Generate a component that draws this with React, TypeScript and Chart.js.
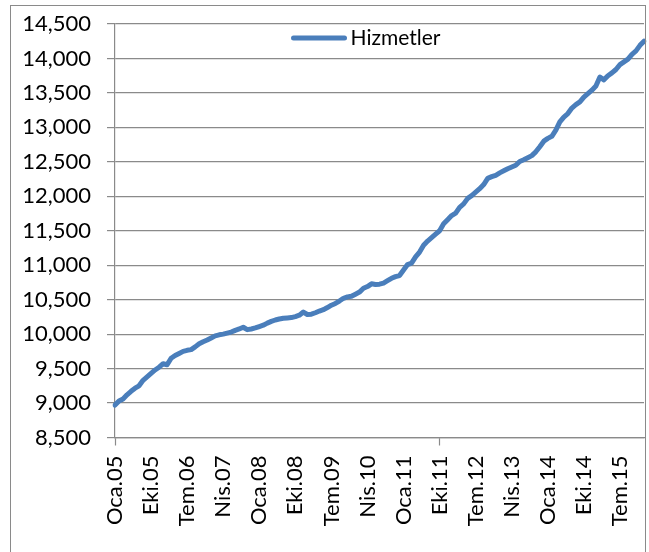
import React, { useEffect, useRef } from 'react';
import { Chart, registerables } from 'chart.js';

Chart.register(...registerables);

const MONTH_NAMES = ['Oca', 'Şub', 'Mar', 'Nis', 'May', 'Haz', 'Tem', 'Ağu', 'Eyl', 'Eki', 'Kas', 'Ara'];
const YEARS = ['05', '06', '07', '08', '09', '10', '11', '12', '13', '14', '15', '16'];
const MONTH_COUNT = 133;

const ALL_MONTHS: string[] = [];
for (const y of YEARS) for (const m of MONTH_NAMES) ALL_MONTHS.push(`${m}.${y}`);
const CATEGORIES = ALL_MONTHS.slice(0, MONTH_COUNT);

const TICK_LABELS = [
  'Oca.05', 'Eki.05', 'Tem.06', 'Nis.07', 'Oca.08', 'Eki.08', 'Tem.09', 'Nis.10',
  'Oca.11', 'Eki.11', 'Tem.12', 'Nis.13', 'Oca.14', 'Eki.14', 'Tem.15',
];

const SERIES_NAME = 'Hizmetler';
const HIZMETLER = [
  8970, 9030, 9060, 9120, 9170, 9215, 9250, 9330, 9380, 9430, 9480, 9520,
  9570, 9555, 9650, 9690, 9720, 9750, 9765, 9775, 9815, 9860, 9890, 9915,
  9945, 9975, 9990, 10000, 10015, 10030, 10055, 10075, 10100, 10065, 10075, 10090,
  10110, 10130, 10160, 10185, 10205, 10220, 10230, 10235, 10240, 10255, 10275, 10320,
  10285, 10290, 10310, 10335, 10355, 10385, 10420, 10445, 10480, 10520, 10540, 10550,
  10580, 10610, 10665, 10690, 10730, 10720, 10725, 10740, 10775, 10810, 10835, 10850,
  10930, 11010, 11030, 11120, 11190, 11290, 11350, 11400, 11450, 11500, 11600, 11660,
  11720, 11755, 11840, 11890, 11970, 12010, 12060, 12110, 12170, 12260, 12285, 12305,
  12340, 12370, 12400, 12425, 12450, 12505, 12530, 12560, 12590, 12645, 12720, 12800,
  12840, 12870, 12960, 13080, 13150, 13200, 13280, 13330, 13370, 13440, 13490, 13540,
  13600, 13730, 13690, 13750, 13790, 13840, 13910, 13950, 13990, 14060, 14110, 14190,
  14250,
];

const Y_MIN = 8500;
const Y_MAX = 14500;
const Y_STEP = 500;

const GRID = '#8a8a8a';
const LINE = '#4a7ebb';
const FONT = 'Lato';

const insideLegend = {
  id: 'insideLegend',
  afterDraw(chart: any) {
    const { ctx, chartArea } = chart;
    const ds = chart.data.datasets[0];
    const y = chartArea.top + 14;
    const x0 = chartArea.left + 178.5;
    ctx.save();
    ctx.strokeStyle = ds.borderColor;
    ctx.lineWidth = 5;
    ctx.lineCap = 'round';
    ctx.beginPath();
    ctx.moveTo(x0, y);
    ctx.lineTo(x0 + 51, y);
    ctx.stroke();
    ctx.fillStyle = '#000';
    ctx.font = `21px ${FONT}`;
    ctx.textBaseline = 'alphabetic';
    ctx.textAlign = 'left';
    ctx.fillText(ds.label, chartArea.left + 235.5, chartArea.top + 20.5);
    ctx.restore();
  },
};

export default function App() {
  const ref = useRef<HTMLCanvasElement | null>(null);

  useEffect(() => {
    if (!ref.current) return;
    const chart = new Chart(ref.current, {
      type: 'line',
      data: {
        labels: CATEGORIES,
        datasets: [
          {
            label: SERIES_NAME,
            data: HIZMETLER,
            borderColor: LINE,
            backgroundColor: LINE,
            borderWidth: 5,
            pointRadius: 0,
            tension: 0,
            borderCapStyle: 'round',
            borderJoinStyle: 'round',
          },
        ],
      },
      options: {
        responsive: false,
        animation: false,
        layout: { padding: { top: 24, right: 5, left: 0, bottom: 0 } },
        plugins: {
          tooltip: { enabled: false },
          legend: { display: false },
        },
        scales: {
          x: {
            type: 'category',
            offset: false,
            grid: {
              drawOnChartArea: false,
              tickLength: 8,
              tickWidth: 1.2,
              tickColor: (ctx: any) =>
                TICK_LABELS.includes(CATEGORIES[ctx.index]) ? GRID : 'rgba(0,0,0,0)',
            },
            border: { display: true, color: GRID, width: 1.2 },
            ticks: {
              autoSkip: false,
              minRotation: 90,
              maxRotation: 90,
              padding: 10,
              color: '#000',
              font: { family: FONT, size: 22 },
              callback: (_v: any, i: number) =>
                TICK_LABELS.includes(CATEGORIES[i]) ? CATEGORIES[i] : null,
            },
            afterFit: (s: any) => {
              s.height = 114.5;
              s.paddingLeft = 0;
              s.paddingRight = 0;
              s.paddingTop = 0;
              s.paddingBottom = 0;
            },
          },
          y: {
            min: Y_MIN,
            max: Y_MAX,
            grid: { color: GRID, lineWidth: 1.2, tickLength: 8 },
            border: { display: true, color: GRID, width: 1.2 },
            ticks: {
              stepSize: Y_STEP,
              padding: 16,
              color: '#000',
              font: { family: FONT, size: 22 },
              callback: (v: any) => Number(v).toLocaleString('en-US'),
            },
            afterFit: (s: any) => {
              s.width = 115;
              s.paddingLeft = 0;
              s.paddingRight = 0;
              s.paddingTop = 0;
              s.paddingBottom = 0;
            },
          },
        },
      },
      plugins: [insideLegend],
    } as any);
    return () => chart.destroy();
  }, []);

  return (
    <div
      style={{
        position: 'absolute',
        left: 0,
        top: 0,
        width: 649,
        height: 552,
        overflow: 'hidden',
        background: '#fff',
      }}
    >
      <canvas ref={ref} width={649} height={552} style={{ position: 'absolute', left: 0, top: 0 }} />
      <div
        style={{
          position: 'absolute',
          left: 10,
          top: 5,
          width: 636,
          height: 600,
          boxSizing: 'border-box',
          border: '1.5px solid #8a8a8a',
          pointerEvents: 'none',
        }}
      />
    </div>
  );
}
